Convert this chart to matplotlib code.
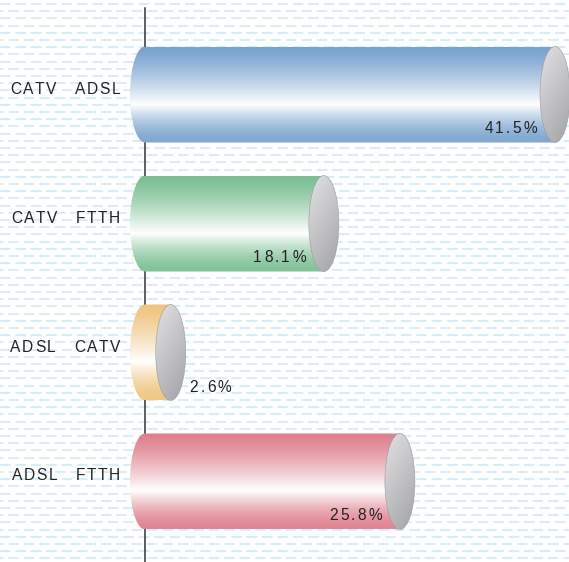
"""Horizontal cylinder bar chart with gradient fill."""
import numpy as np
import matplotlib
matplotlib.use("Agg")
import matplotlib.pyplot as plt
from matplotlib.colors import to_rgb
from matplotlib.font_manager import FontProperties, findfont, get_font
from matplotlib.patches import Ellipse, PathPatch
from matplotlib.path import Path
from matplotlib.transforms import IdentityTransform

plt.rcParams["lines.scale_dashes"] = False

categories = ["CATV   ADSL", "CATV   FTTH", "ADSL   CATV", "ADSL   FTTH"]
values = [41.5, 18.1, 2.6, 25.8]
value_labels = ["41.5%", "18.1%", "2.6%", "25.8%"]
colors = ["#79a2cf", "#7bbf93", "#efc47f", "#de7f8e"]

W, H, DPI = 569, 562, 100
PX_X = 9.88   # pixels per percent
PX_Y = 129.0  # pixels per category
X0 = 145      # pixel of zero
Y0 = 94.5     # pixel centre of first bar

fig = plt.figure(figsize=(W / DPI, H / DPI), dpi=DPI)
fig.patch.set_facecolor("white")
ax = fig.add_axes([0, 0, 1, 1])
ax.set_xlim(-X0 / PX_X, (W - X0) / PX_X)
ax.set_ylim((H - Y0) / PX_Y, -Y0 / PX_Y)
ax.axis("off")

FP = FontProperties(family="Liberation Sans", size=11.2)
_font = get_font(findfont(FP))
_font.set_size(FP.get_size_in_points(), DPI)


def advance(ch):
    g = _font.load_char(ord(ch))
    return g.linearHoriAdvance / 65536.0


def spaced_text(x, y, s, ha="left", track=1.6, dx=0, dy=0):
    """Draw text with extra letter spacing; x,y in data, dx,dy in pixels."""
    px, py = ax.transData.transform((x, y))
    px += dx
    py += dy
    advs = [advance(ch) for ch in s]
    total = sum(advs) + (len(s) - 1) * track
    pos = px - total if ha == "right" else px
    for ch, adv in zip(s, advs):
        if ch != " ":
            fig.text(pos, py, ch, fontproperties=FP, color="#222222",
                     ha="left", va="baseline", transform=IdentityTransform(),
                     zorder=5)
        pos += adv + track


# background: staggered light blue dashes
step = 7.2
for k, yp in enumerate(np.arange(4, H, step)):
    ax.plot([0, 1], [1 - yp / H, 1 - yp / H], transform=ax.transAxes,
            color="#d8edf8", lw=1.5, zorder=0,
            linestyle=((k % 2) * 5.0, (7.5, 3.6)))

# zero axis line
ax.plot([0, 0], [(8 - Y0) / PX_Y, (H - Y0) / PX_Y], color="#333333",
        lw=1.1, zorder=1)

bar_h = 96 / PX_Y
a = 15 / PX_X  # ellipse half width in data units


def bar_gradient(c):
    t = np.linspace(0, 1, 200)
    f = np.where(t < 0.6, (t / 0.6) ** 1.3, 0.05 + 0.95 * ((1 - t) / 0.4) ** 1.6)
    rgb = np.array(to_rgb(c))
    img = rgb[None, :] * (1 - f[:, None]) + f[:, None]
    return img[:, None, :]


def cap_gradient():
    n = 120
    xx, yy = np.meshgrid(np.linspace(0, 1, n), np.linspace(0, 1, n))
    s = np.clip(0.35 * xx + 0.65 * yy, 0, 1)
    light = np.array(to_rgb("#e2e2e4"))
    dark = np.array(to_rgb("#a2a2a6"))
    return light * (1 - s[..., None]) + dark * s[..., None]


for i, (v, c) in enumerate(zip(values, colors)):
    top, bot = i - bar_h / 2, i + bar_h / 2
    th = np.linspace(np.pi / 2, 3 * np.pi / 2, 60)
    arc = np.column_stack([a * np.cos(th), i - (bar_h / 2) * np.sin(th)])
    verts = np.vstack([[v, top], arc, [v, bot], [v, top]])
    codes = [Path.MOVETO] + [Path.LINETO] * (len(verts) - 2) + [Path.CLOSEPOLY]
    body = PathPatch(Path(verts, codes), facecolor="none", edgecolor="none")
    ax.add_patch(body)
    im = ax.imshow(bar_gradient(c), extent=(-a, v, bot, top), aspect="auto",
                   interpolation="bilinear", zorder=2)
    im.set_clip_path(body)

    cap = Ellipse((v, i), 2 * a, bar_h, facecolor="none", edgecolor="#9a9a9e",
                  lw=0.4, zorder=4)
    ax.add_patch(cap)
    im2 = ax.imshow(cap_gradient(), extent=(v - a, v + a, bot, top),
                    aspect="auto", interpolation="bilinear", zorder=3)
    im2.set_clip_path(cap)

    # category label
    spaced_text(0, i, categories[i], ha="right", track=1.5, dx=-25, dy=1)
    # value label
    if v > 5:
        spaced_text(v, bot, value_labels[i], ha="right", track=2.2,
                    dx=-15 - 3, dy=10)
    else:
        spaced_text(v, bot, value_labels[i], ha="left", track=2.2,
                    dx=15 + 4, dy=8)

fig.savefig("out.png", dpi=DPI)
